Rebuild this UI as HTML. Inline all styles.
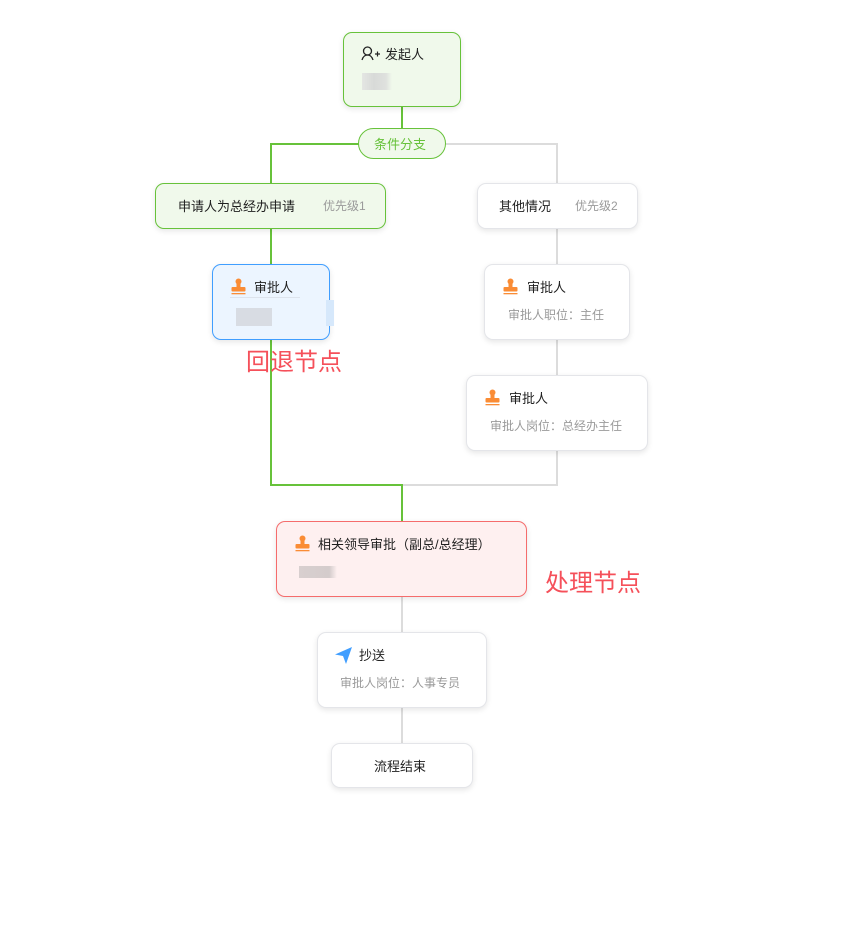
<!DOCTYPE html>
<html><head><meta charset="utf-8"><style>
*{margin:0;padding:0;box-sizing:border-box}
body{width:868px;height:948px;background:#fff;position:relative;overflow:hidden;font-family:"Liberation Sans","Noto Sans CJK SC",sans-serif;color:#1f1f1f}
.n{position:absolute;border:1px solid #e4e5e9;border-radius:9px;background:#fff;box-shadow:0 2px 6px rgba(0,0,0,0.10)}
.l{position:absolute}
.g{background:#67c23a}
.y{background:#dcdcdc}
.t{position:absolute;font-size:13px;white-space:nowrap;margin-top:-2px}
.s{position:absolute;font-size:12px;color:#9a9a9a;white-space:nowrap;margin-top:-2px}
.blur{position:absolute;height:14px;background:linear-gradient(90deg,#e4e6e3,#d8dad8 40%,#dfe1de 80%,rgba(230,230,230,0))}
.red{position:absolute;font-size:24px;color:#f5505a;white-space:nowrap}
</style></head><body>

<div class="l g" style="left:401px;top:106px;width:2px;height:23px"></div>
<div class="l g" style="left:270px;top:143px;width:90px;height:2px"></div>
<div class="l g" style="left:270px;top:143px;width:2px;height:41px"></div>
<div class="l y" style="left:444px;top:143px;width:114px;height:2px"></div>
<div class="l y" style="left:556px;top:143px;width:2px;height:41px"></div>
<div class="l g" style="left:270px;top:228px;width:2px;height:37px"></div>
<div class="l g" style="left:270px;top:339px;width:2px;height:147px"></div>
<div class="l g" style="left:270px;top:484px;width:133px;height:2px"></div>
<div class="l g" style="left:401px;top:484px;width:2px;height:38px"></div>
<div class="l y" style="left:403px;top:484px;width:155px;height:2px"></div>
<div class="l y" style="left:556px;top:228px;width:2px;height:37px"></div>
<div class="l y" style="left:556px;top:339px;width:2px;height:37px"></div>
<div class="l y" style="left:556px;top:450px;width:2px;height:36px"></div>
<div class="l y" style="left:401px;top:596px;width:2px;height:37px"></div>
<div class="l y" style="left:401px;top:707px;width:2px;height:37px"></div>

<div class="n" style="left:343px;top:32px;width:118px;height:75px;background:#f0f9eb;border-color:#67c23a"></div>
<svg style="position:absolute;left:361px;top:46px" width="20" height="15" viewBox="0 0 20 15"><circle cx="6.5" cy="5" r="4" fill="none" stroke="#222" stroke-width="1.3"/><path d="M1 14c1-3.5 3-5 5.5-5s4.5 1.5 5.5 5" fill="none" stroke="#222" stroke-width="1.3"/><path d="M14 8h5M16.5 5.5v5" stroke="#222" stroke-width="1.2"/></svg>
<div class="t" style="left:385px;top:46px">发起人</div>
<div class="blur" style="left:362px;top:73px;width:30px;height:17px"></div>

<div class="n" style="left:358px;top:128px;width:88px;height:31px;border-radius:16px;background:#f0f9eb;border-color:#67c23a;box-shadow:none"></div>
<div class="t" style="left:374px;top:136px;color:#67c23a">条件分支</div>

<div class="n" style="left:155px;top:183px;width:231px;height:46px;background:#f0f9eb;border-color:#67c23a"></div>
<div class="t" style="left:178px;top:198px">申请人为总经办申请</div>
<div class="s" style="left:323px;top:199px">优先级1</div>

<div class="n" style="left:477px;top:183px;width:161px;height:46px"></div>
<div class="t" style="left:499px;top:198px">其他情况</div>
<div class="s" style="left:575px;top:199px">优先级2</div>

<div class="n" style="left:212px;top:264px;width:118px;height:76px;background:#ecf5ff;border-color:#409eff"></div>
<div class="l" style="left:326px;top:300px;width:8px;height:26px;background:#d6e8fb"></div>
<svg style="position:absolute;left:230px;top:278px" width="17" height="17" viewBox="0 0 17 17"><circle cx="8.5" cy="3.5" r="3" fill="#fa8c35"/><rect x="6.5" y="5" width="4" height="5" fill="#fa8c35"/><rect x="1.5" y="9" width="14" height="4.5" rx="1" fill="#fa8c35"/><rect x="1.5" y="15" width="14" height="1.3" fill="#fa8c35"/></svg>
<div class="t" style="left:254px;top:279px">审批人</div>
<div class="l" style="left:230px;top:297px;width:70px;height:1px;background:#dde3ec"></div>
<div class="blur" style="left:236px;top:308px;width:36px;height:18px;background:#d8dce3"></div>

<div class="red" style="left:246px;top:342px">回退节点</div>

<div class="n" style="left:484px;top:264px;width:146px;height:76px"></div>
<svg style="position:absolute;left:502px;top:278px" width="17" height="17" viewBox="0 0 17 17"><circle cx="8.5" cy="3.5" r="3" fill="#fa8c35"/><rect x="6.5" y="5" width="4" height="5" fill="#fa8c35"/><rect x="1.5" y="9" width="14" height="4.5" rx="1" fill="#fa8c35"/><rect x="1.5" y="15" width="14" height="1.3" fill="#fa8c35"/></svg>
<div class="t" style="left:527px;top:279px">审批人</div>
<div class="s" style="left:508px;top:308px">审批人职位：主任</div>

<div class="n" style="left:466px;top:375px;width:182px;height:76px"></div>
<svg style="position:absolute;left:484px;top:389px" width="17" height="17" viewBox="0 0 17 17"><circle cx="8.5" cy="3.5" r="3" fill="#fa8c35"/><rect x="6.5" y="5" width="4" height="5" fill="#fa8c35"/><rect x="1.5" y="9" width="14" height="4.5" rx="1" fill="#fa8c35"/><rect x="1.5" y="15" width="14" height="1.3" fill="#fa8c35"/></svg>
<div class="t" style="left:509px;top:390px">审批人</div>
<div class="s" style="left:490px;top:419px">审批人岗位：总经办主任</div>

<div class="n" style="left:276px;top:521px;width:251px;height:76px;background:#fef0f0;border-color:#f56c6c"></div>
<svg style="position:absolute;left:294px;top:535px" width="17" height="17" viewBox="0 0 17 17"><circle cx="8.5" cy="3.5" r="3" fill="#fa8c35"/><rect x="6.5" y="5" width="4" height="5" fill="#fa8c35"/><rect x="1.5" y="9" width="14" height="4.5" rx="1" fill="#fa8c35"/><rect x="1.5" y="15" width="14" height="1.3" fill="#fa8c35"/></svg>
<div class="t" style="left:318px;top:536px">相关领导审批（副总/总经理）</div>
<div class="blur" style="left:299px;top:566px;width:38px;height:12px;background:linear-gradient(90deg,#d8cfcf,#d4cccc 80%,rgba(240,220,220,0))"></div>

<div class="red" style="left:545px;top:563px">处理节点</div>

<div class="n" style="left:317px;top:632px;width:170px;height:76px"></div>
<svg style="position:absolute;left:334px;top:646px" width="19" height="19" viewBox="0 0 19 19"><path d="M1 8.5L18 1 12 18 9 10z" fill="#409eff"/></svg>
<div class="t" style="left:359px;top:647px">抄送</div>
<div class="s" style="left:340px;top:676px">审批人岗位：人事专员</div>

<div class="n" style="left:331px;top:743px;width:142px;height:45px"></div>
<div class="t" style="left:374px;top:758px">流程结束</div>

</body></html>
